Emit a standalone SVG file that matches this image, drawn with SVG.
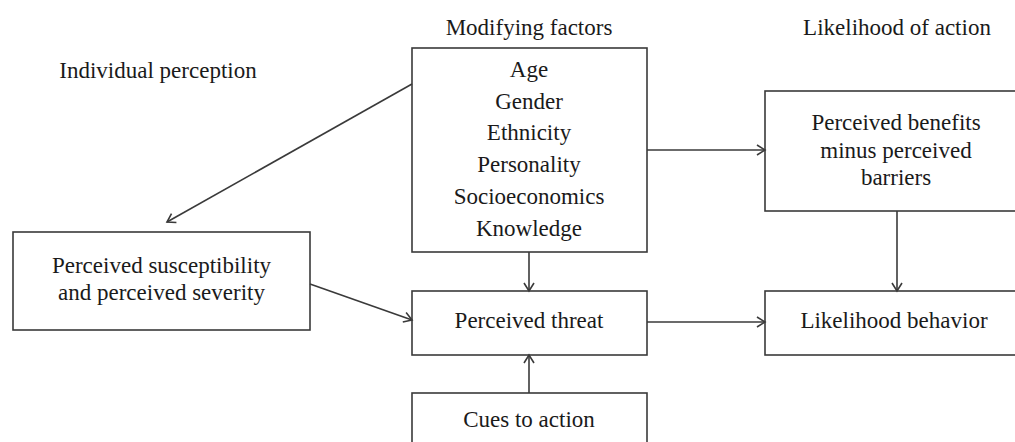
<svg xmlns="http://www.w3.org/2000/svg" width="1015" height="442" viewBox="0 0 1015 442">
<style>
.box{fill:#fff;stroke:#3a3a3a;stroke-width:1.6}
.t{font-family:"Liberation Serif","Times New Roman",serif;font-size:23px;fill:#1a1a1a;text-anchor:middle}
.c{stroke:#3a3a3a;stroke-width:1.6;fill:none;marker-end:url(#ah)}
</style>
<defs>
<marker id="ah" markerUnits="userSpaceOnUse" markerWidth="14" markerHeight="14" refX="9" refY="6" orient="auto">
<path d="M1,1 L9,6 L1,11" fill="none" stroke="#3a3a3a" stroke-width="1.6"/>
</marker>
</defs>
<rect width="1015" height="442" fill="#fff"/>
<g id="headers">
<text class="t" x="529" y="35">Modifying factors</text>
<text class="t" x="897" y="35">Likelihood of action</text>
<text class="t" x="158" y="78">Individual perception</text>
</g>
<g id="modifying">
<rect class="box" x="412" y="48" width="235" height="204"/>
<text class="t" x="529" y="77">Age</text>
<text class="t" x="529" y="109">Gender</text>
<text class="t" x="529" y="140">Ethnicity</text>
<text class="t" x="529" y="172">Personality</text>
<text class="t" x="529" y="204">Socioeconomics</text>
<text class="t" x="529" y="236">Knowledge</text>
</g>
<g id="susceptibility">
<rect class="box" x="13" y="232" width="297" height="98"/>
<text class="t" x="161.5" y="273">Perceived susceptibility</text>
<text class="t" x="161.5" y="300">and perceived severity</text>
</g>
<g id="threat">
<rect class="box" x="412" y="291" width="235" height="64"/>
<text class="t" x="529" y="328">Perceived threat</text>
</g>
<g id="cues">
<rect class="box" x="412" y="393" width="235" height="70"/>
<text class="t" x="529" y="427">Cues to action</text>
</g>
<g id="benefits">
<rect class="box" x="765" y="91" width="265" height="120"/>
<text class="t" x="896" y="130">Perceived benefits</text>
<text class="t" x="896" y="158">minus perceived</text>
<text class="t" x="896" y="185">barriers</text>
</g>
<g id="likelihood">
<rect class="box" x="765" y="291" width="265" height="64"/>
<text class="t" x="894" y="328">Likelihood behavior</text>
</g>
<g id="connectors">
<line class="c" x1="412" y1="84" x2="167" y2="222"/>
<line class="c" x1="647" y1="150" x2="765" y2="150"/>
<line class="c" x1="897" y1="211" x2="897" y2="291"/>
<line class="c" x1="647" y1="322" x2="765" y2="322"/>
<line class="c" x1="529" y1="252" x2="529" y2="291"/>
<line class="c" x1="529" y1="393" x2="529" y2="355"/>
<line class="c" x1="310" y1="284" x2="412" y2="320"/>
</g>
</svg>
